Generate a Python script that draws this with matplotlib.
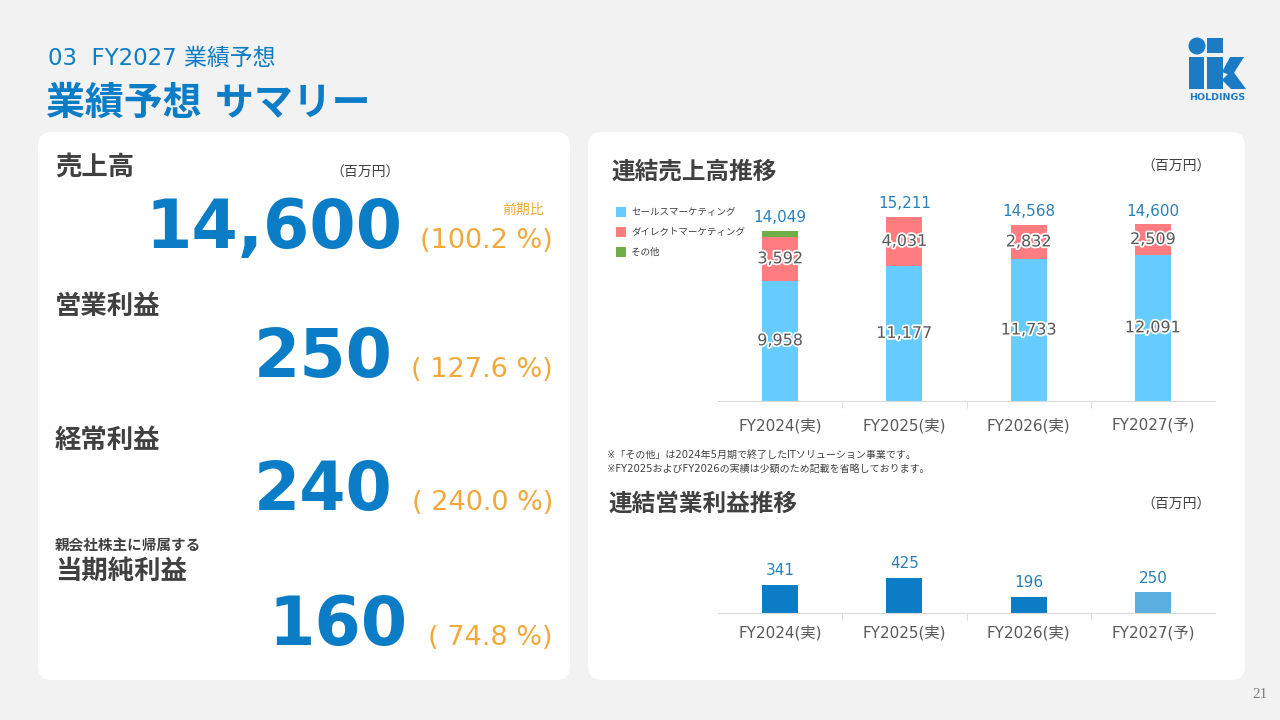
import numpy as np
import matplotlib
matplotlib.use('Agg')
import matplotlib.pyplot as plt
import matplotlib.patheffects as pe
from matplotlib.patches import FancyBboxPatch, Rectangle, Circle, Polygon

plt.rcParams['font.family'] = ['DejaVu Sans', 'Noto Sans CJK JP']

# data
years = ['FY2024(実)', 'FY2025(実)', 'FY2026(実)', 'FY2027(予)']
sales_marketing = [9958, 11177, 11733, 12091]
direct_marketing = [3592, 4031, 2832, 2509]
other = [499, 3, 3, 0]
sales_total = [14049, 15211, 14568, 14600]
op_profit = [341, 425, 196, 250]

summary_labels = ['売上高', '営業利益', '経常利益', '当期純利益']
summary_values = ['14,600', '250', '240', '160']
summary_ratio = ['(100.2 %)', '( 127.6 %)', '( 240.0 %)', '( 74.8 %)']

BLUE = '#0b7cc6'
ORANGE = '#f0a93a'
DARK = '#404040'
GRAY = '#595959'
LBLUE = '#66ccff'
PINK = '#ff7c80'
GREEN = '#70ad47'
LABEL_BLUE = '#2a80b9'

W, H = 1280, 720
fig = plt.figure(figsize=(12.8, 7.2), dpi=100)
fig.patch.set_facecolor('#f2f2f2')

bg = fig.add_axes([0, 0, 1, 1])
bg.set_xlim(0, W)
bg.set_ylim(H, 0)
bg.axis('off')

# panels
for x0, x1 in [(38, 570), (588, 1245)]:
    bg.add_patch(FancyBboxPatch((x0, 132), x1 - x0, 548,
                                boxstyle='round,pad=0,rounding_size=14',
                                fc='white', ec='none'))

# header
bg.text(48, 58, '03  FY2027 業績予想', color=BLUE, fontsize=16.5, va='center')
bg.text(46, 104, '業績予想 サマリー', color=BLUE, fontsize=28, fontweight='bold', va='center')

# logo
LOGO = '#1b7bc4'
bg.add_patch(Circle((1197, 46), 8.5, fc=LOGO, ec='none'))
bg.add_patch(Rectangle((1207, 38), 16, 15, fc=LOGO, ec='none'))
bg.add_patch(Rectangle((1189, 57), 15, 32, fc=LOGO, ec='none'))
bg.add_patch(Rectangle((1207, 57), 16, 32, fc=LOGO, ec='none'))
bg.add_patch(Polygon([(1222, 72), (1230, 57), (1244, 57), (1232, 76)], fc=LOGO, ec='none'))
bg.add_patch(Polygon([(1222, 80), (1232, 70), (1246, 89), (1231, 89)], fc=LOGO, ec='none'))
bg.text(1217, 97, 'HOLDINGS', color=LOGO, fontsize=6.8, fontweight='bold', ha='center', va='center')

bg.text(1268, 695, '21', color='#808080', fontsize=11, family='Liberation Serif', ha='right', va='center')

# left summary
label_y = [168, 307, 441, 572]
num_base = [248, 377, 510, 645]
num_right = [403, 393, 393, 408]
for i in range(4):
    bg.text(55, label_y[i], summary_labels[i], color=DARK, fontsize=19, fontweight='bold', va='center')
    bg.text(num_right[i], num_base[i], summary_values[i], color=BLUE, fontsize=48,
            fontweight='bold', ha='right', va='baseline')
    bg.text(553, num_base[i], summary_ratio[i], color=ORANGE, fontsize=19.5,
            ha='right', va='baseline')
bg.text(55, 546, '親会社株主に帰属する', color=DARK, fontsize=10.5, fontweight='bold', va='center')
bg.text(400, 173, '（百万円）', color=DARK, fontsize=10, ha='right', va='center')
bg.text(544, 210, '前期比', color=ORANGE, fontsize=10, ha='right', va='center')

# right titles
bg.text(611, 172, '連結売上高推移', color=DARK, fontsize=17, fontweight='bold', va='center')
bg.text(1211, 167, '（百万円）', color=DARK, fontsize=10, ha='right', va='center')
bg.text(608, 504, '連結営業利益推移', color=DARK, fontsize=17, fontweight='bold', va='center')
bg.text(1211, 505, '（百万円）', color=DARK, fontsize=10, ha='right', va='center')
bg.text(607, 455, '※「その他」は2024年5月期で終了したITソリューション事業です。', color=DARK, fontsize=7.2, va='center')
bg.text(607, 469, '※FY2025およびFY2026の実績は少額のため記載を省略しております。', color=DARK, fontsize=7.2, va='center')

# legend
for j, (c, t) in enumerate([(LBLUE, 'セールスマーケティング'), (PINK, 'ダイレクトマーケティング'), (GREEN, 'その他')]):
    y = 212 + 20 * j
    bg.add_patch(Rectangle((616, y - 5), 10, 10, fc=c, ec='none'))
    bg.text(631, y, t, color=DARK, fontsize=6.8, va='center')


def px_axes(x0, y0, x1, y1):
    return fig.add_axes([x0 / W, 1 - y1 / H, (x1 - x0) / W, (y1 - y0) / H])


def style_axis(ax, pad):
    ax.set_facecolor('none')
    for s in ['top', 'right', 'left']:
        ax.spines[s].set_visible(False)
    ax.spines['bottom'].set_color('#d9d9d9')
    ax.set_yticks([])
    ax.set_xlim(-0.5, 3.5)
    ax.set_xticks(range(4))
    ax.set_xticklabels(years, fontsize=11, color=GRAY)
    ax.tick_params(axis='x', which='major', length=0, pad=pad)
    ax.set_xticks([0.5, 1.5, 2.5], minor=True)
    ax.tick_params(axis='x', which='minor', length=5, color='#d9d9d9')


x = np.arange(4)
bw = 0.29
stroke = [pe.withStroke(linewidth=2.5, foreground='white')]

# sales stacked chart
ax1 = px_axes(718, 201, 1215, 401)
style_axis(ax1, 12)
ax1.set_ylim(0, 16530)
sm = np.array(sales_marketing)
dm = np.array(direct_marketing)
ot = np.array(other)
ax1.bar(x, sm, bw, color=LBLUE)
ax1.bar(x, dm, bw, bottom=sm, color=PINK)
ax1.bar(x, ot, bw, bottom=sm + dm, color=GREEN)
for i in range(4):
    ax1.text(x[i], sm[i] / 2, f'{sm[i]:,}', ha='center', va='center', fontsize=11.5,
             color=GRAY, path_effects=stroke)
    ax1.text(x[i], sm[i] + dm[i] / 2, f'{dm[i]:,}', ha='center', va='center', fontsize=11.5,
             color=GRAY, path_effects=stroke)
    ax1.annotate(f'{sales_total[i]:,}', (x[i], sales_total[i]), xytext=(0, 4),
                 textcoords='offset points', ha='center', va='bottom', fontsize=11,
                 color=LABEL_BLUE)

# operating profit chart
ax2 = px_axes(718, 540, 1215, 613)
style_axis(ax2, 9)
ax2.set_ylim(0, 890)
colors = [BLUE, BLUE, BLUE, '#5aaee0']
ax2.bar(x, op_profit, bw, color=colors)
for i in range(4):
    ax2.annotate(f'{op_profit[i]:,}', (x[i], op_profit[i]), xytext=(0, 5),
                 textcoords='offset points', ha='center', va='bottom', fontsize=11,
                 color=LABEL_BLUE)

fig.savefig('out.png', dpi=100, facecolor=fig.get_facecolor())
